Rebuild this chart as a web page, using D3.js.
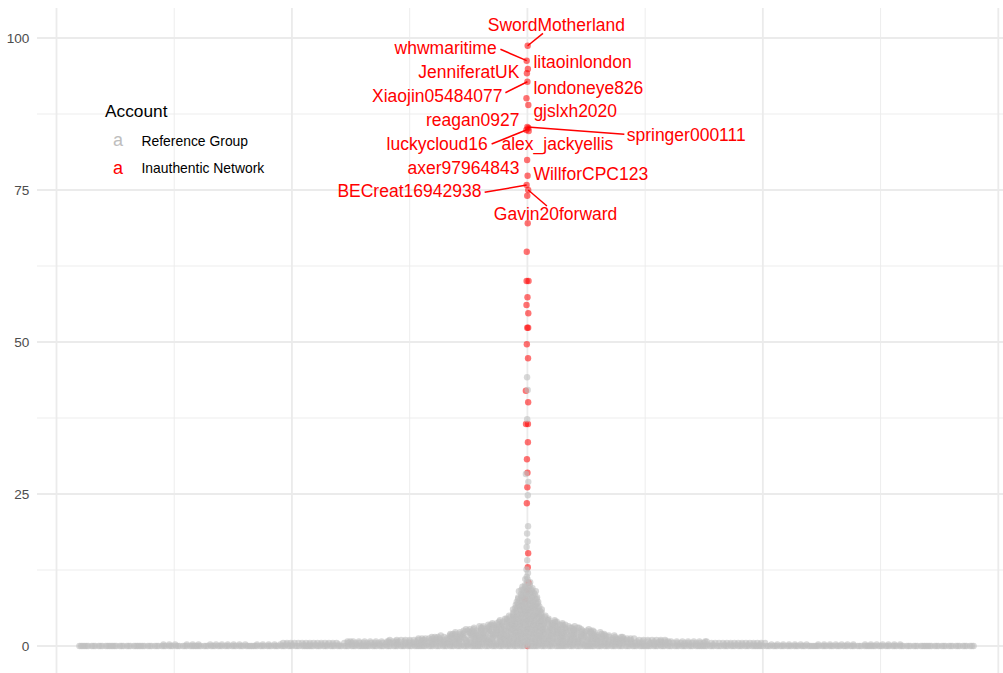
<!DOCTYPE html>
<html><head><meta charset="utf-8">
<script src="https://cdn.jsdelivr.net/npm/d3@7"></script>
<style>
body{margin:0;background:#fff}
svg{display:block}
text{font-family:"Liberation Sans",Arial,Helvetica,sans-serif}
</style>
</head><body>
<svg id="chart" width="1003" height="673"></svg>
<script>
// ---------------- data ----------------
// Reference Group: histogram of account values (value, number of accounts)
const refValues = [0, 0.25, 0.5, 0.75, 1, 1.25, 1.5, 1.75, 2, 2.25, 2.5, 2.75, 3, 3.25, 3.5, 3.75, 4, 4.25, 4.5, 4.75, 5,
  5.25, 5.5, 5.75, 6, 6.25, 6.5, 6.75, 7, 7.25, 7.5, 7.75, 8, 8.25, 8.5, 8.75, 9, 9.25, 9.5, 9.75, 10,
  10.5, 11, 11.4, 12, 12.6, 14.1, 16.3, 17.2, 18.5, 19.7, 24.8, 27.0, 28.3, 37.3, 42.1, 44.2];
const refCounts = [400, 110, 120, 80, 62, 52, 45, 41, 38, 35, 32, 29, 26, 23, 20, 17, 15, 13, 11, 10, 9,
  8, 7, 7, 7, 7, 6, 6, 6, 5, 5, 5, 5, 4, 4, 4, 4, 3, 3, 3, 2,
  2, 2, 1, 1, 1, 1, 1, 1, 1, 1, 1, 1, 1, 1, 1, 1];
// Inauthentic Network accounts
const netValues = [98.73, 96.27, 94.90, 94.19, 92.81, 90.08, 88.98, 85.36, 85.20, 84.87, 84.70, 79.93, 77.35, 75.82, 75.00,
  74.06, 69.52, 64.85, 60.03, 60.03, 57.35, 56.09, 54.72, 52.35, 52.35, 49.62, 47.32, 41.99, 40.08, 36.51, 36.51,
  33.50, 30.71, 28.50, 26.10, 23.47, 15.25, 12.94, 10.41, 9.21, 7.70, 0];
const netLabels = ["SwordMotherland", "whwmaritime", "litaoinlondon", "JenniferatUK", "Xiaojin05484077", "londoneye826",
  "gjslxh2020", "springer000111", "reagan0927", "luckycloud16", "alex_jackyellis", "axer97964843", "WillforCPC123",
  "BECreat16942938", "Gavin20forward"];
const groupNames = ["Reference Group", "Inauthentic Network"];
const legendTitle = "Account";
const yTicks = [0, 25, 50, 75, 100];
const yMinor = [12.5, 37.5, 62.5, 87.5];
const xTicks = [-0.4, -0.2, 0, 0.2, 0.4];
const xMinor = [-0.3, -0.1, 0.1, 0.3];

// ---------------- layout (label placement, like ggrepel) ----------------
const labelLayout = [
  {dx: 29, dy: -15, a: "middle", seg: [15.3, -12.4]},
  {dx: -30.7, dy: -6.7, a: "end", seg: [-26.3, -11.4]},
  {dx: 6, dy: -0.7, a: "start"},
  {dx: -8, dy: 5, a: "end"},
  {dx: -25, dy: 20, a: "end", seg: [-22, 11]},
  {dx: 6, dy: -4.3, a: "start"},
  {dx: 6, dy: 12.3, a: "start"},
  {dx: 99.3, dy: 13.7, a: "start", seg: [97, 7.3]},
  {dx: -8, dy: -2, a: "end"},
  {dx: -39.7, dy: 20, a: "end", seg: [-34.7, 14]},
  {dx: 30, dy: 19, a: "middle"},
  {dx: -8, dy: 14, a: "end"},
  {dx: 6, dy: 4.3, a: "start"},
  {dx: -46, dy: 12.3, a: "end", seg: [-42, 7.3]},
  {dx: 28.2, dy: 30, a: "middle", seg: [18.7, 16]}
];

const panel = {left: 37, right: 1003, top: 8, bottom: 673};
const svg = d3.select("#chart");

const x = d3.scaleLinear().domain([-0.4, 0.4]).range([56.5, 998.3]);
const y = d3.scaleLinear().domain([0, 100]).range([646, 38]);

const grid = svg.append("g");
const gc = "#EBEBEB";
grid.selectAll(".ymin").data(yMinor).join("line")
  .attr("x1", panel.left).attr("x2", panel.right).attr("y1", d => y(d)).attr("y2", d => y(d))
  .attr("stroke", gc).attr("stroke-width", 0.9);
grid.selectAll(".xmin").data(xMinor).join("line")
  .attr("y1", panel.top).attr("y2", panel.bottom).attr("x1", d => x(d)).attr("x2", d => x(d))
  .attr("stroke", gc).attr("stroke-width", 0.9);
grid.selectAll(".ymaj").data(yTicks).join("line")
  .attr("x1", panel.left).attr("x2", panel.right).attr("y1", d => y(d)).attr("y2", d => y(d))
  .attr("stroke", gc).attr("stroke-width", 1.8);
grid.selectAll(".xmaj").data(xTicks).join("line")
  .attr("y1", panel.top).attr("y2", panel.bottom).attr("x1", d => x(d)).attr("x2", d => x(d))
  .attr("stroke", gc).attr("stroke-width", 1.8);

// y axis via d3 axis (labels only)
const yAxis = svg.append("g").attr("transform", `translate(${panel.left},0)`)
  .call(d3.axisLeft(y).tickValues(yTicks).tickSize(0).tickPadding(7.7));
yAxis.select(".domain").remove();
yAxis.selectAll("text").attr("fill", "#4D4D4D").style("font-size", "13.6px")
  .style("font-family", '"Liberation Sans",Arial,sans-serif');

// ---------------- quasirandom layout (vipor-like) ----------------
const pts = [];
netValues.forEach((v, i) => pts.push({v, g: 1, i}));
refValues.forEach((v, k) => { for (let j = 0; j < refCounts[k]; j++) pts.push({v, g: 0}); });

const bw = 0.22;
const uniq = new Map();
pts.forEach(p => uniq.set(p.v, (uniq.get(p.v) || 0) + 1));
const uv = Array.from(uniq.entries());
function dens(v) {
  let s = 0;
  for (const [u, c] of uv) { const z = (v - u) / bw; if (Math.abs(z) < 8) s += c * Math.exp(-0.5 * z * z); }
  return s;
}
const dcache = new Map();
uv.forEach(([u]) => dcache.set(u, dens(u)));
const maxD = d3.max(Array.from(dcache.values()));
function vdc(n) { let r = 0, f = 0.5; while (n > 0) { r += f * (n & 1); n >>= 1; f /= 2; } return r; }
const order = d3.range(pts.length).sort((a, b) => (pts[a].v - pts[b].v) || (a - b));
order.forEach((idx, rank) => { pts[idx].q = vdc(rank + 1); });
const width = 0.382;
pts.forEach(p => { p.off = (p.q - 0.5) * 2 * width * dcache.get(p.v) / maxD; });

const R = 3.2;
const netPts = pts.filter(p => p.g === 1);
const refPts = pts.filter(p => p.g === 0);
svg.append("g").selectAll("circle").data(netPts).join("circle")
  .attr("cx", d => x(d.off)).attr("cy", d => y(d.v)).attr("r", R)
  .attr("fill", "#FF0000").attr("fill-opacity", 0.55);
svg.append("g").selectAll("circle").data(refPts).join("circle")
  .attr("cx", d => x(d.off)).attr("cy", d => y(d.v)).attr("r", R)
  .attr("fill", "#BEBEBE").attr("fill-opacity", 0.6);

// ---------------- labels ----------------
const lab = svg.append("g");
netLabels.forEach((name, i) => {
  const p = netPts[i];
  const px = x(p.off), py = y(p.v);
  const L = labelLayout[i];
  if (L.seg) {
    lab.append("line").attr("x1", px).attr("y1", py).attr("x2", px + L.seg[0]).attr("y2", py + L.seg[1])
      .attr("stroke", "#FF0000").attr("stroke-width", 1.5);
  }
  lab.append("text").attr("x", x(0) + L.dx).attr("y", py + L.dy).attr("text-anchor", L.a)
    .attr("fill", "#FF0000").style("font-size", "17.5px").text(name);
});

// ---------------- legend ----------------
const leg = svg.append("g");
leg.append("text").attr("x", 105).attr("y", 116.7).style("font-size", "17.3px").attr("fill", "#000").text(legendTitle);
const keyCol = ["#BEBEBE", "#FF0000"];
groupNames.forEach((n, i) => {
  const by = 146.3 + i * 27.5;
  leg.append("text").attr("x", 118).attr("y", by).attr("text-anchor", "middle")
    .style("font-size", "18px").attr("fill", keyCol[i]).text("a");
  leg.append("text").attr("x", 141.5).attr("y", by - 0.6).style("font-size", "13.9px").attr("fill", "#000").text(n);
});
</script>
</body></html>
